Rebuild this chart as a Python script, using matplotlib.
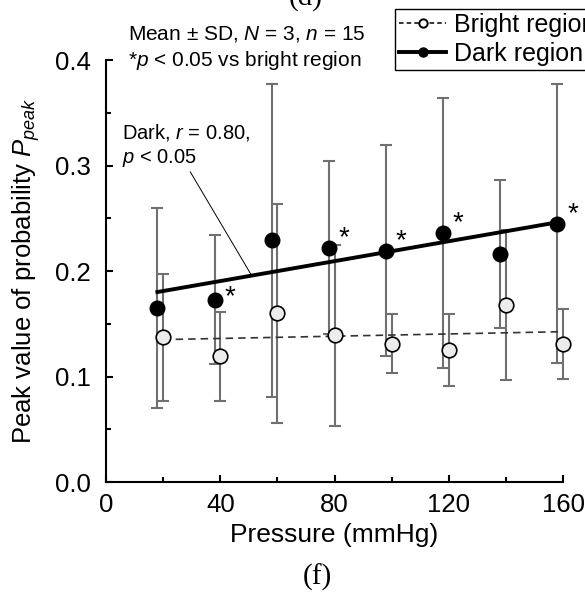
import numpy as np
import matplotlib
matplotlib.use('Agg')
import matplotlib.pyplot as plt
from matplotlib.lines import Line2D
from matplotlib.ticker import MultipleLocator, FormatStrFormatter

plt.rcParams['font.family'] = ['Liberation Sans', 'DejaVu Sans']
plt.rcParams['mathtext.fontset'] = 'custom'
plt.rcParams['mathtext.rm'] = 'Liberation Sans'
plt.rcParams['mathtext.it'] = 'Liberation Sans:italic'

# pressure levels (mmHg)
pressure = np.array([20, 40, 60, 80, 100, 120, 140, 160])

# dark region, mean and SD
dark_mean = np.array([0.165, 0.173, 0.229, 0.222, 0.219, 0.236, 0.216, 0.245])
dark_sd = np.array([0.095, 0.061, 0.148, 0.082, 0.100, 0.128, 0.070, 0.132])

# bright region, mean and SD
bright_mean = np.array([0.137, 0.119, 0.160, 0.139, 0.131, 0.125, 0.168, 0.131])
bright_sd = np.array([0.060, 0.042, 0.104, 0.086, 0.028, 0.034, 0.071, 0.033])

# pressures where dark differs from bright (p < 0.05)
sig_pressure = [40, 80, 100, 120, 160]

dark_x = pressure - 2   # dark points drawn slightly left
bright_x = pressure

fig = plt.figure(figsize=(5.85, 5.92), dpi=100)
ax = fig.add_axes([0.1812, 0.1858, 0.7812, 0.7128])

err_col = '#707070'
ax.errorbar(dark_x, dark_mean, yerr=dark_sd, fmt='none', ecolor=err_col,
            elinewidth=1.5, capsize=4, capthick=1.5, clip_on=False, zorder=2)
ax.errorbar(bright_x, bright_mean, yerr=bright_sd, fmt='none', ecolor=err_col,
            elinewidth=1.5, capsize=4, capthick=1.5, clip_on=False, zorder=2)

# linear fits
k_d, b_d = np.polyfit(dark_x, dark_mean, 1)
k_b, b_b = np.polyfit(bright_x, bright_mean, 1)
xd = np.array([dark_x[0], dark_x[-1]])
xb = np.array([bright_x[0], bright_x[-1]])
ax.plot(xd, k_d * xd + b_d, color='black', lw=2.8, zorder=3, clip_on=False)
ax.plot(xb, k_b * xb + b_b, color='#333333', lw=1.2, ls=(0, (4.5, 3)), zorder=3, clip_on=False)

ax.plot(dark_x, dark_mean, 'o', ms=10.5, mfc='black', mec='black', zorder=4, clip_on=False)
ax.plot(bright_x, bright_mean, 'o', ms=10.5, mfc='#ececec', mec='black', mew=1.2, zorder=5, clip_on=False)

# asterisks
for p in sig_pressure:
    i = list(pressure).index(p)
    dy = 2 if p == 40 else 7
    ax.annotate('*', (dark_x[i], dark_mean[i]), xytext=(11, dy), textcoords='offset points',
                fontsize=20, ha='center', va='center', annotation_clip=False)

# correlation note with leader line
ax.text(5.5, 0.319, 'Dark, $r$ = 0.80,\n$p$ < 0.05', fontsize=14.5, ha='left', va='center',
        linespacing=1.2)
ax.plot([29.5, 51], [0.294, k_d * 51 + b_d], color='black', lw=0.7, zorder=3)

ax.set_xlim(0, 160)
ax.set_ylim(0, 0.4)
ax.xaxis.set_major_locator(MultipleLocator(40))
ax.xaxis.set_minor_locator(MultipleLocator(20))
ax.yaxis.set_major_locator(MultipleLocator(0.1))
ax.yaxis.set_minor_locator(MultipleLocator(0.05))
ax.yaxis.set_major_formatter(FormatStrFormatter('%.1f'))
ax.spines['top'].set_visible(False)
ax.spines['right'].set_visible(False)
ax.spines['left'].set_linewidth(1.5)
ax.spines['bottom'].set_linewidth(1.5)
ax.tick_params(which='major', direction='in', length=5, width=1.5, labelsize=18.5)
ax.tick_params(axis='y', which='major', pad=11)
ax.tick_params(axis='x', which='major', pad=8)
ax.tick_params(which='minor', direction='in', length=3.5, width=1.5)

ax.set_xlabel('Pressure (mmHg)', fontsize=19, labelpad=4)
ax.set_ylabel('Peak value of probability $P_{peak}$', fontsize=18.5, labelpad=9)

fig.text(128 / 585, 1 - 34 / 592, 'Mean \u00b1 SD, $N$ = 3, $n$ = 15', fontsize=15, va='center')
fig.text(128 / 585, 1 - 60 / 592, '*$p$ < 0.05 vs bright region', fontsize=15, va='center')

# panel letters
fig.text(306 / 585, 1 + 2 / 592, '(d)', fontsize=21, family='Liberation Serif', ha='center', va='center')
fig.text(317 / 585, 1 - 577 / 592, '(f)', fontsize=21, family='Liberation Serif', ha='center', va='center')

handles = [
    Line2D([], [], color='black', lw=1.1, ls=(0, (3, 2)), marker='o', ms=6, mfc='white', mec='black', mew=1.4),
    Line2D([], [], color='black', lw=2.8, marker='o', ms=6.5, mfc='black', mec='black'),
]
leg = fig.legend(handles, ['Bright region', 'Dark region'], loc='upper left',
                 bbox_to_anchor=(395 / 585, 1 - 9 / 592), fontsize=18, frameon=True, fancybox=False,
                 edgecolor='black', framealpha=1, handlelength=1.9, handletextpad=0.3,
                 borderpad=0.15, labelspacing=0.2, borderaxespad=0)
leg.get_frame().set_linewidth(1.0)

fig.savefig('out.png', dpi=100)
